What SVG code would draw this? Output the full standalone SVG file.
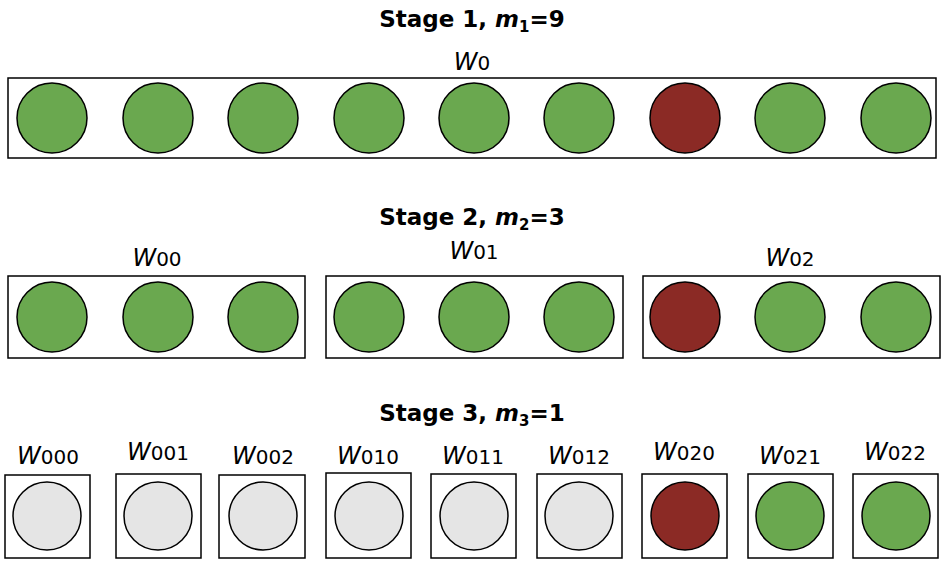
<svg xmlns="http://www.w3.org/2000/svg" width="944" height="566" viewBox="0 0 944 566">
<style>
.t{font-family:"DejaVu Sans",sans-serif;font-weight:bold;font-size:23px;text-anchor:middle}
.l{font-family:"DejaVu Sans",sans-serif;font-size:24px;text-anchor:middle}
.box{fill:#fff;stroke:#000;stroke-width:1.5}
.g{fill:#6aa84f;stroke:#000;stroke-width:1.5}
.r{fill:#8b2a25;stroke:#000;stroke-width:1.5}
.e{fill:#e5e5e5;stroke:#000;stroke-width:1.5}
</style>
<rect width="944" height="566" fill="#fff"/>
<text class="t" x="472" y="27">Stage 1, <tspan font-style="italic">m</tspan><tspan font-size="15" dy="5">1</tspan><tspan dy="-5">=9</tspan></text>
<text class="t" x="472" y="225">Stage 2, <tspan font-style="italic">m</tspan><tspan font-size="15" dy="5">2</tspan><tspan dy="-5">=3</tspan></text>
<text class="t" x="472" y="421">Stage 3, <tspan font-style="italic">m</tspan><tspan font-size="15" dy="5">3</tspan><tspan dy="-5">=1</tspan></text>
<g id="stage1">
<text class="l" x="472" y="70"><tspan font-style="italic">W</tspan><tspan font-size="20">0</tspan></text>
<rect class="box" x="8" y="78" width="928" height="80"/>
<circle class="g" cx="52" cy="118" r="35"/><circle class="g" cx="158" cy="118" r="35"/><circle class="g" cx="263" cy="118" r="35"/><circle class="g" cx="369" cy="118" r="35"/><circle class="g" cx="474" cy="118" r="35"/><circle class="g" cx="579" cy="118" r="35"/><circle class="r" cx="685" cy="118" r="35"/><circle class="g" cx="790" cy="118" r="35"/><circle class="g" cx="896" cy="118" r="35"/>
</g>
<g id="stage2">
<text class="l" x="157" y="266"><tspan font-style="italic">W</tspan><tspan font-size="20">00</tspan></text>
<text class="l" x="474" y="259"><tspan font-style="italic">W</tspan><tspan font-size="20">01</tspan></text>
<text class="l" x="790" y="266"><tspan font-style="italic">W</tspan><tspan font-size="20">02</tspan></text>
<rect class="box" x="8" y="276" width="297" height="82"/>
<rect class="box" x="326" y="276" width="297" height="82"/>
<rect class="box" x="643" y="276" width="297" height="82"/>
<circle class="g" cx="52" cy="317" r="35"/><circle class="g" cx="158" cy="317" r="35"/><circle class="g" cx="263" cy="317" r="35"/><circle class="g" cx="369" cy="317" r="35"/><circle class="g" cx="474" cy="317" r="35"/><circle class="g" cx="579" cy="317" r="35"/><circle class="r" cx="685" cy="317" r="35"/><circle class="g" cx="790" cy="317" r="35"/><circle class="g" cx="896" cy="317" r="35"/>
</g>
<g id="stage3">
<g id="w000"><text class="l" x="48" y="464"><tspan font-style="italic">W</tspan><tspan font-size="20">000</tspan></text><rect class="box" x="5" y="475" width="85" height="83"/><circle class="e" cx="47" cy="516" r="34"/></g>
<g id="w001"><text class="l" x="158" y="460"><tspan font-style="italic">W</tspan><tspan font-size="20">001</tspan></text><rect class="box" x="116" y="474" width="85" height="84"/><circle class="e" cx="158" cy="516" r="34"/></g>
<g id="w002"><text class="l" x="263" y="464"><tspan font-style="italic">W</tspan><tspan font-size="20">002</tspan></text><rect class="box" x="219" y="475" width="86" height="83"/><circle class="e" cx="263" cy="516" r="34"/></g>
<g id="w010"><text class="l" x="368" y="464"><tspan font-style="italic">W</tspan><tspan font-size="20">010</tspan></text><rect class="box" x="326" y="473" width="85" height="85"/><circle class="e" cx="369" cy="516" r="34"/></g>
<g id="w011"><text class="l" x="473" y="464"><tspan font-style="italic">W</tspan><tspan font-size="20">011</tspan></text><rect class="box" x="431" y="474" width="85" height="84"/><circle class="e" cx="474" cy="516" r="34"/></g>
<g id="w012"><text class="l" x="579" y="464"><tspan font-style="italic">W</tspan><tspan font-size="20">012</tspan></text><rect class="box" x="537" y="474" width="85" height="84"/><circle class="e" cx="579" cy="516" r="34"/></g>
<g id="w020"><text class="l" x="684" y="460"><tspan font-style="italic">W</tspan><tspan font-size="20">020</tspan></text><rect class="box" x="642" y="474" width="85" height="84"/><circle class="r" cx="685" cy="516" r="34"/></g>
<g id="w021"><text class="l" x="790" y="464"><tspan font-style="italic">W</tspan><tspan font-size="20">021</tspan></text><rect class="box" x="748" y="474" width="85" height="84"/><circle class="g" cx="790" cy="516" r="34"/></g>
<g id="w022"><text class="l" x="895" y="460"><tspan font-style="italic">W</tspan><tspan font-size="20">022</tspan></text><rect class="box" x="853" y="474" width="85" height="84"/><circle class="g" cx="896" cy="516" r="34"/></g>
</g>
<g id="connectors"/>
</svg>
